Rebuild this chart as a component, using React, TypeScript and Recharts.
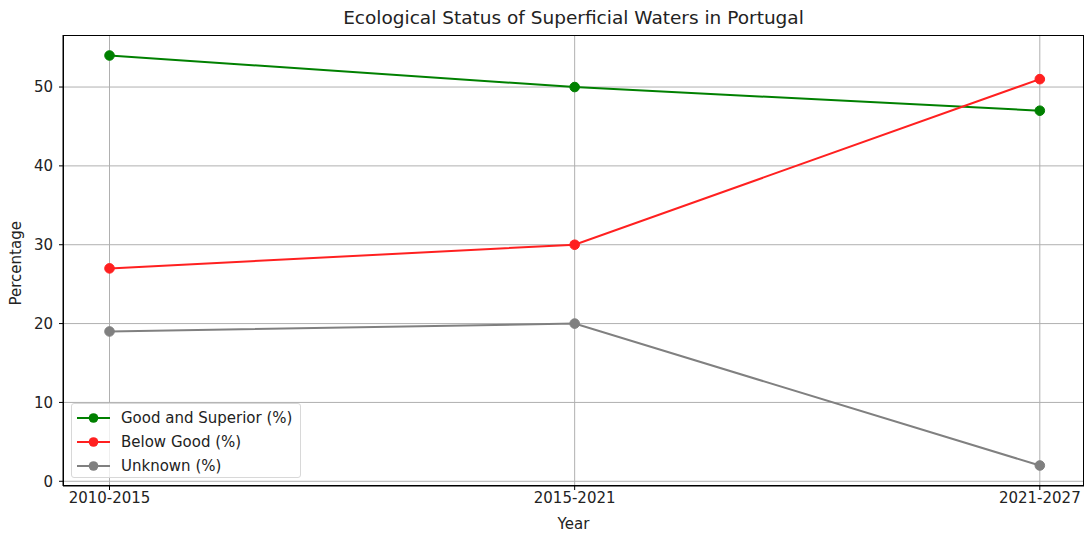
import { LineChart, Line, XAxis, YAxis, CartesianGrid } from 'recharts';

const periods = ['2010-2015', '2015-2021', '2021-2027'];
const goodSuperior = [54, 50, 47];
const belowGood = [27, 30, 51];
const unknown = [19, 20, 2];
const yTicks = [0, 10, 20, 30, 40, 50];

const data = periods.map((p, i) => ({
  x: i,
  period: p,
  good: goodSuperior[i],
  below: belowGood[i],
  unknown: unknown[i],
}));

const series = [
  { key: 'good', name: 'Good and Superior (%)', color: '#008000' },
  { key: 'below', name: 'Below Good (%)', color: '#ff2020' },
  { key: 'unknown', name: 'Unknown (%)', color: '#808080' },
];

const font = '"DejaVu Sans", sans-serif';

export default function App() {
  return (
    <div style={{ position: 'absolute', left: 0, top: 0, width: 1086, height: 534, background: '#fff', fontFamily: font }}>
      <div style={{ position: 'absolute', left: 63, width: 1021, top: 7, textAlign: 'center', fontSize: 18.5, color: '#222' }}>
        Ecological Status of Superficial Waters in Portugal
      </div>
      <LineChart width={1086} height={534} data={data} margin={{ top: 35, right: 2, bottom: 0, left: 0 }}>
        <CartesianGrid stroke="#b0b0b0" strokeWidth={1} horizontalValues={yTicks} verticalValues={[0, 1, 2]} />
        <XAxis
          dataKey="x"
          type="number"
          domain={[-0.1, 2.095]}
          ticks={[0, 1, 2]}
          tickFormatter={(v: number) => periods[v]}
          height={48}
          tickSize={4}
          stroke="#000"
          tick={{ fill: '#222', fontSize: 15, fontFamily: font }}
          label={{ value: 'Year', position: 'insideBottom', offset: 5, fill: '#222', fontSize: 15, fontFamily: font }}
        />
        <YAxis
          type="number"
          domain={[-0.6, 56.6]}
          ticks={yTicks}
          width={63}
          tickSize={4}
          tickMargin={6}
          stroke="#000"
          tick={{ fill: '#222', fontSize: 15, fontFamily: font }}
          label={{ value: 'Percentage', angle: -90, position: 'insideLeft', offset: 16, dy: 45, fill: '#222', fontSize: 15, fontFamily: font }}
        />
        {series.map((s) => (
          <Line
            key={s.key}
            dataKey={s.key}
            name={s.name}
            stroke={s.color}
            strokeWidth={2}
            dot={{ r: 4.8, fill: s.color, stroke: s.color, strokeWidth: 1 }}
            isAnimationActive={false}
          />
        ))}
      </LineChart>
      <div style={{ position: 'absolute', left: 63, top: 35, width: 1021, height: 451, border: '1px solid #000', boxSizing: 'border-box', pointerEvents: 'none' }} />
      <div
        style={{
          position: 'absolute', left: 71, top: 403, width: 230, height: 75,
          border: '1px solid #d8d8d8', borderRadius: 3, background: 'rgba(255,255,255,0.8)',
          boxSizing: 'border-box', padding: '2px 0 0 5px',
        }}
      >
        {series.map((s) => (
          <div key={s.key} style={{ display: 'flex', alignItems: 'center', height: 24, fontSize: 15, color: '#222', whiteSpace: 'nowrap' }}>
            <svg width={34} height={12} style={{ marginRight: 10 }}>
              <line x1={0} y1={6} x2={33} y2={6} stroke={s.color} strokeWidth={2} />
              <circle cx={16.5} cy={6} r={4.8} fill={s.color} />
            </svg>
            {s.name}
          </div>
        ))}
      </div>
    </div>
  );
}
